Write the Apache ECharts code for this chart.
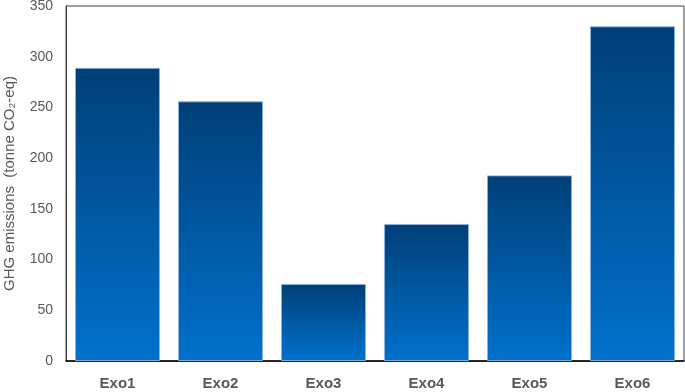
<!DOCTYPE html>
<html>
<head>
<meta charset="utf-8">
<script src="https://cdn.jsdelivr.net/npm/echarts@6/dist/echarts.min.js"></script>
<style>
html,body{margin:0;padding:0;background:#fff;}
#chart{width:685px;height:392px;}
</style>
</head>
<body>
<div id="chart"></div>
<script>
// data
var categories = ['Exo1', 'Exo2', 'Exo3', 'Exo4', 'Exo5', 'Exo6'];
var emissions = [289, 256, 76, 135, 183, 330];
var yTicks = [0, 50, 100, 150, 200, 250, 300, 350];

var myChart = echarts.init(document.getElementById('chart'));
var option = {
    animation: false,
    grid: {
        left: 66,
        right: 1,
        top: 6,
        bottom: 31,
        outerBoundsMode: 'none',
        containLabel: false,
        show: true,
        borderColor: '#404040',
        borderWidth: 1
    },
    xAxis: {
        type: 'category',
        data: categories,
        axisLine: { show: true, lineStyle: { color: '#000', width: 1.5 } },
        axisTick: { show: false },
        axisLabel: {
            margin: 15,
            color: '#595959',
            fontSize: 15,
            fontWeight: 'bold',
            fontFamily: 'Liberation Sans'
        }
    },
    yAxis: {
        type: 'value',
        min: yTicks[0],
        max: yTicks[yTicks.length - 1],
        interval: 50,
        name: 'GHG emissions  (tonne CO\u2082-eq)',
        nameLocation: 'middle',
        nameGap: 49,
        nameTextStyle: { color: '#595959', fontSize: 15, fontFamily: 'Liberation Sans' },
        axisLine: { show: true, lineStyle: { color: '#404040', width: 1 } },
        axisTick: { show: false },
        splitLine: { show: false },
        axisLabel: {
            margin: 13,
            color: '#595959',
            fontSize: 14,
            fontFamily: 'Liberation Sans'
        }
    },
    series: [{
        type: 'bar',
        data: emissions,
        barWidth: '82.5%',
        itemStyle: {
            color: new echarts.graphic.LinearGradient(0, 0, 0, 1, [
                { offset: 0, color: '#003f78' },
                { offset: 1, color: '#0071cc' }
            ]),
            borderColor: 'rgba(140,180,225,0.9)',
            borderWidth: 1
        }
    }]
};
myChart.setOption(option);
</script>
</body>
</html>
